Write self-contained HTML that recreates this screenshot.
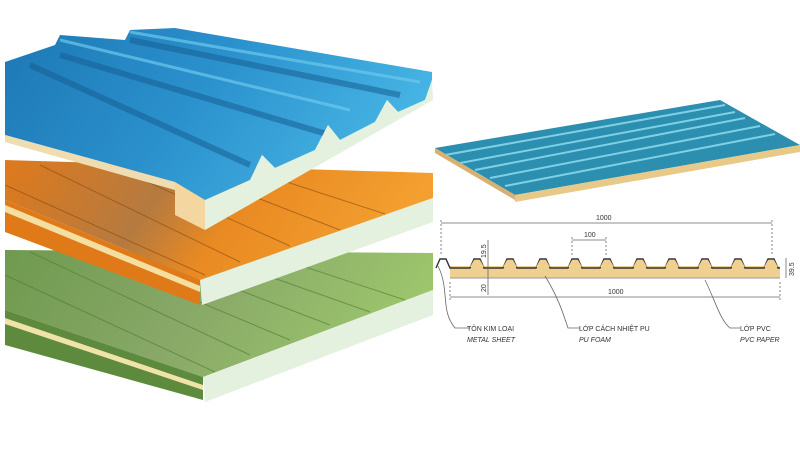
<!DOCTYPE html>
<html><head><style>body{margin:0;background:#fff}svg{display:block}</style></head><body>
<svg width="800" height="450" viewBox="0 0 800 450" xmlns="http://www.w3.org/2000/svg" font-family="Liberation Sans, sans-serif">
<defs>
<linearGradient id="b" x1="0" y1="0" x2="1" y2="0.3"><stop offset="0" stop-color="#1d78b4"/><stop offset="0.5" stop-color="#2a90cc"/><stop offset="1" stop-color="#45b3e3"/></linearGradient>
<linearGradient id="o" x1="0" y1="0" x2="1" y2="0.2"><stop offset="0" stop-color="#df7a1c"/><stop offset="0.4" stop-color="#b57a40"/><stop offset="0.6" stop-color="#e98a22"/><stop offset="1" stop-color="#f4a030"/></linearGradient>
<linearGradient id="g" x1="0" y1="0" x2="1" y2="0.2"><stop offset="0" stop-color="#6f9a4e"/><stop offset="0.5" stop-color="#88a868"/><stop offset="1" stop-color="#9cc56c"/></linearGradient>
</defs>
<!-- green panel -->
<polygon points="5,250 433,253 433,290 203,377 5,310" fill="url(#g)"/>
<polygon points="5,310 203,377 203,400 5,345" fill="#5e8a3e"/>
<polygon points="5,318 203,385 203,390 5,324" fill="#f0e2a8"/>
<polygon points="203,377 433,290 433,315 205,402" fill="#e3f1de"/>
<g stroke="#4d7a30" stroke-width="1" opacity="0.6">
<line x1="30" y1="252" x2="250" y2="355"/><line x1="80" y1="252" x2="290" y2="340"/><line x1="140" y1="252" x2="330" y2="325"/><line x1="200" y1="252" x2="370" y2="312"/><line x1="260" y1="252" x2="405" y2="300"/><line x1="5" y1="275" x2="215" y2="372"/></g>
<!-- orange panel -->
<polygon points="5,160 433,173 433,198 200,280 5,200" fill="url(#o)"/>
<polygon points="5,200 200,280 200,305 5,232" fill="#e07a18"/>
<polygon points="5,205 200,286 200,292 5,212" fill="#f5dfa0"/>
<polygon points="200,280 433,198 433,222 202,305" fill="#e3f1de"/>
<g stroke="#8a4a10" stroke-width="1" opacity="0.6">
<line x1="40" y1="165" x2="240" y2="262"/><line x1="110" y1="165" x2="290" y2="246"/><line x1="180" y1="168" x2="340" y2="230"/><line x1="250" y1="170" x2="385" y2="214"/><line x1="5" y1="185" x2="205" y2="275"/></g>
<!-- blue panel -->
<polygon points="5,62 55,45 60,35 125,40 130,30 175,28 432,72 432,80 425,100 398,112 387,100 375,122 340,140 328,125 315,150 275,168 262,155 250,180 205,200 175,182 5,135" fill="url(#b)"/>
<g stroke="#175f94" stroke-width="6" opacity="0.55">
<line x1="30" y1="65" x2="250" y2="165"/><line x1="60" y1="55" x2="330" y2="135"/><line x1="130" y1="40" x2="400" y2="95"/></g>
<g stroke="#6cc8ee" stroke-width="3" opacity="0.7">
<line x1="60" y1="40" x2="350" y2="110"/><line x1="130" y1="32" x2="420" y2="82"/></g>
<polygon points="5,135 175,182 175,190 5,142" fill="#efdcb0"/>
<polygon points="175,182 205,200 205,230 175,215" fill="#f3d6a0"/>
<polygon points="205,200 250,180 262,155 275,168 315,150 328,125 340,140 375,122 387,100 398,112 425,100 432,80 433,100 205,230" fill="#e3f1de"/>
<!-- right small panel -->
<polygon points="435,148 720,100 800,145 515,195" fill="#2c8fb0"/>
<g stroke="#7fd0e6" stroke-width="2">
<line x1="445" y1="155" x2="725" y2="105"/><line x1="460" y1="163" x2="735" y2="112"/><line x1="475" y1="170" x2="745" y2="118"/><line x1="490" y1="178" x2="760" y2="126"/><line x1="505" y1="186" x2="775" y2="134"/></g>
<polygon points="515,195 800,145 800,152 515,202" fill="#e7c98a"/>
<polygon points="435,148 515,195 515,200 435,153" fill="#d9b070"/>
<!-- cross section -->
<rect x="450" y="266" width="330" height="12" fill="#f0d090"/>
<polyline fill="none" stroke="#333" stroke-width="1.4" points="436,268 440,259 446,259 450,268 470,268 474,259 480,259 484,268 503,268 507,259 513,259 517,268 536,268 540,259 546,259 550,268 568,268 572,259 578,259 582,268 600,268 604,259 610,259 614,268 633,268 637,259 643,259 647,268 665,268 669,259 675,259 679,268 698,268 702,259 708,259 712,268 731,268 735,259 741,259 745,268 764,268 768,259 774,259 778,268 780,268"/>
<g fill="#f0d090"><polygon points="474,260 480,260 484,267 470,267"/><polygon points="507,260 513,260 517,267 503,267"/><polygon points="540,260 546,260 550,267 536,267"/><polygon points="572,260 578,260 582,267 568,267"/><polygon points="604,260 610,260 614,267 600,267"/><polygon points="637,260 643,260 647,267 633,267"/><polygon points="669,260 675,260 679,267 665,267"/><polygon points="702,260 708,260 712,267 698,267"/><polygon points="735,260 741,260 745,267 731,267"/><polygon points="768,260 774,260 778,267 764,267"/></g>
<line x1="450" y1="278" x2="780" y2="278" stroke="#999"/>
<g stroke="#666" stroke-width="0.8" fill="none">
<line x1="441" y1="223" x2="772" y2="223"/><line x1="441" y1="220" x2="441" y2="256" stroke-dasharray="2,2"/><line x1="772" y1="220" x2="772" y2="256" stroke-dasharray="2,2"/>
<line x1="572" y1="240" x2="606" y2="240"/><line x1="572" y1="237" x2="572" y2="255" stroke-dasharray="2,2"/><line x1="606" y1="237" x2="606" y2="255" stroke-dasharray="2,2"/>
<line x1="450" y1="297" x2="780" y2="297"/><line x1="450" y1="282" x2="450" y2="300" stroke-dasharray="2,2"/><line x1="780" y1="282" x2="780" y2="300" stroke-dasharray="2,2"/>
<line x1="488" y1="240" x2="488" y2="295"/><line x1="786" y1="258" x2="786" y2="278"/>
<path d="M438,266 C450,290 440,310 455,328 L470,328"/>
<path d="M545,276 C560,300 565,320 568,328 L580,328"/>
<path d="M705,280 C715,300 720,320 730,328 L740,328"/>
</g>
<g font-size="7" fill="#333">
<text x="596" y="220">1000</text><text x="584" y="237">100</text><text x="608" y="294">1000</text>
<text transform="translate(486,258) rotate(-90)">19.5</text><text transform="translate(486,292) rotate(-90)">20</text><text transform="translate(794,276) rotate(-90)">39.5</text>
<text x="467" y="331">TÔN KIM LOẠI</text><text x="467" y="342" font-style="italic">METAL SHEET</text>
<text x="579" y="331">LỚP CÁCH NHIỆT PU</text><text x="579" y="342" font-style="italic">PU FOAM</text>
<text x="740" y="331">LỚP PVC</text><text x="740" y="342" font-style="italic">PVC PAPER</text>
</g>
</svg>
</body></html>
